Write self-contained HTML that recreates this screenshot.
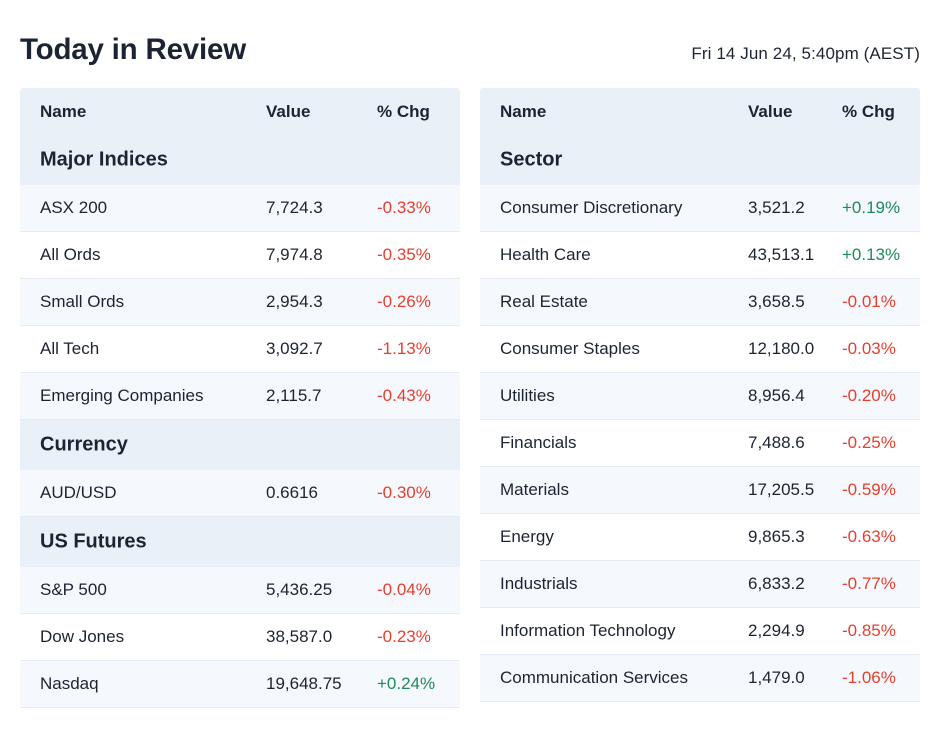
<!DOCTYPE html>
<html><head><meta charset="utf-8"><style>
body{margin:0;background:#fff;width:945px;height:735px;position:relative;font-family:"Liberation Sans",sans-serif;color:#1c2433;overflow:hidden}
h1{position:absolute;left:20px;top:33px;margin:0;font-size:29.5px;font-weight:bold;letter-spacing:-0.2px}
.date{position:absolute;right:25px;top:44px;font-size:17px;letter-spacing:0.1px}
.tbl{position:absolute;top:88px;width:440px}
.row{position:relative;height:46px;border-bottom:1px solid #e4ebf3;font-size:17px}
.row span,.hd span,.sec span{position:absolute;top:50%;transform:translateY(-50%)}
.odd{background:#f5f8fc}
.hd{position:relative;height:47px;background:#e9f0f8;font-weight:bold;font-size:17px;border-radius:3px 3px 0 0}
.sec{position:relative;height:50px;background:#e9f0f8;font-weight:bold;font-size:20px}
.neg{color:#e5402f}.pos{color:#1d8a5a}
</style></head><body>
<h1>Today in Review</h1>
<div class="date">Fri 14 Jun 24, 5:40pm (AEST)</div>
<div class="tbl" id="left" style="left:20px"></div>
<div class="tbl" id="right" style="left:480px"></div>
<script>
const leftGroups=[["Major Indices",[["ASX 200","7,724.3","-0.33%"],["All Ords","7,974.8","-0.35%"],["Small Ords","2,954.3","-0.26%"],["All Tech","3,092.7","-1.13%"],["Emerging Companies","2,115.7","-0.43%"]]],["Currency",[["AUD/USD","0.6616","-0.30%"]]],["US Futures",[["S&P 500","5,436.25","-0.04%"],["Dow Jones","38,587.0","-0.23%"],["Nasdaq","19,648.75","+0.24%"]]]];
const rightGroups=[["Sector",[["Consumer Discretionary","3,521.2","+0.19%"],["Health Care","43,513.1","+0.13%"],["Real Estate","3,658.5","-0.01%"],["Consumer Staples","12,180.0","-0.03%"],["Utilities","8,956.4","-0.20%"],["Financials","7,488.6","-0.25%"],["Materials","17,205.5","-0.59%"],["Energy","9,865.3","-0.63%"],["Industrials","6,833.2","-0.77%"],["Information Technology","2,294.9","-0.85%"],["Communication Services","1,479.0","-1.06%"]]]];
function span(p,t,x,cls){const s=document.createElement('span');s.textContent=t;s.style.left=x+'px';if(cls)s.className=cls;p.appendChild(s);return s;}
function build(el,groups,vx,px){
 const h=document.createElement('div');h.className='hd';
 
 
 span(h,'Name',20);span(h,'Value',vx);span(h,'% Chg',px);el.appendChild(h);
 groups.forEach(g=>{
  const s=document.createElement('div');s.className='sec';
  
  
  span(s,g[0],20);el.appendChild(s);
  g[1].forEach((r,i)=>{
   const d=document.createElement('div');d.className='row'+(i%2==0?' odd':'');
   
   
   span(d,r[0],20);span(d,r[1],vx);span(d,r[2],px,r[2][0]=='-'?'neg':'pos');
   el.appendChild(d);
  });
 });
}
build(document.getElementById('left'),leftGroups,246,357);
build(document.getElementById('right'),rightGroups,268,362);
</script>
</body></html>
